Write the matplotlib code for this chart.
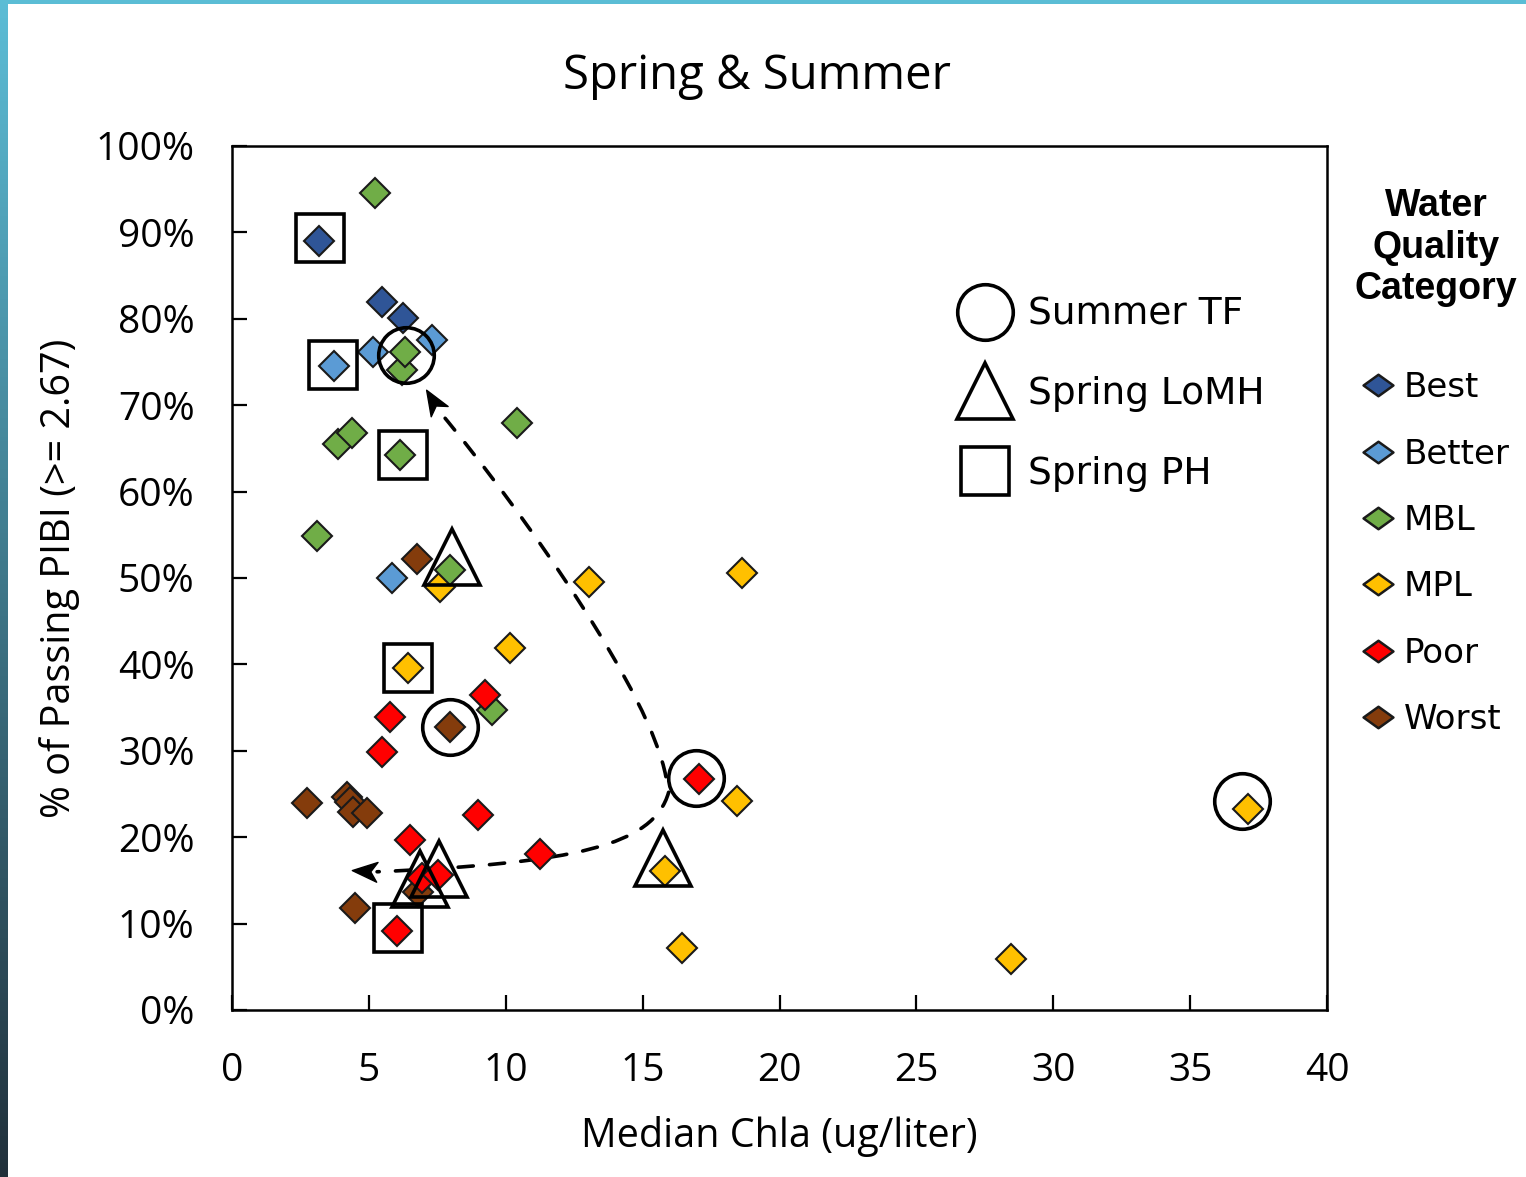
import numpy as np
import matplotlib
matplotlib.use("Agg")
import matplotlib.pyplot as plt
from matplotlib.lines import Line2D
from matplotlib.path import Path
from matplotlib.patches import PathPatch
from matplotlib.markers import MarkerStyle
from matplotlib.transforms import Affine2D
from matplotlib.ticker import FuncFormatter, MultipleLocator

# median chlorophyll-a (ug/L) vs share of sites passing PIBI (%), by category
best_x = [3.18, 5.48, 6.25]
best_y = [89.0, 81.9, 80.1]
better_x = [3.73, 5.15, 7.31, 5.84]
better_y = [74.5, 76.2, 77.5, 50.0]
mbl_x = [5.22, 6.21, 6.32, 3.87, 4.38, 6.14, 10.41, 3.11, 7.96, 9.50]
mbl_y = [94.6, 74.1, 76.2, 65.5, 66.8, 64.2, 67.9, 54.9, 50.9, 34.7]
mpl_x = [7.60, 13.04, 18.63, 6.43, 10.16, 18.45, 15.82, 16.44, 28.46, 37.1]
mpl_y = [49.0, 49.5, 50.6, 39.6, 41.9, 24.2, 16.1, 7.2, 5.9, 23.3]
poor_x = [5.77, 5.48, 9.24, 17.06, 6.50, 8.99, 11.25, 6.94, 7.53, 6.03]
poor_y = [33.9, 29.9, 36.5, 26.7, 19.7, 22.6, 18.1, 15.3, 15.6, 9.1]
worst_x = [2.74, 4.20, 4.31, 4.42, 4.93, 6.76, 7.96, 4.49, 6.79]
worst_y = [24.0, 24.7, 24.1, 22.9, 22.8, 52.2, 32.8, 11.8, 13.7]

# highlighted sites
summer_tf_x = [6.36, 7.96, 16.95, 36.9]
summer_tf_y = [75.8, 32.8, 26.9, 24.2]
spring_lomh_x = [8.04, 15.75, 6.87, 7.56]
spring_lomh_y = [52.4, 17.6, 15.2, 16.3]
spring_ph_x = [3.22, 3.69, 6.25, 6.43, 6.05]
spring_ph_y = [89.3, 74.6, 64.2, 39.6, 9.5]

# dashed guide curves (cubic bezier control points) and their arrow tips
upper_curve = [(15.85, 27.0), (15.3, 36.5), (10.8, 57.0), (7.6, 69.2)]
upper_tip = (7.35, 70.5)
lower_curve = [(15.95, 25.2), (15.4, 19.0), (12.5, 17.0), (5.3, 16.0)]
lower_tip = (4.85, 16.1)

categories = ["Best", "Better", "MBL", "MPL", "Poor", "Worst"]
colors = {"Best": "#2f5597", "Better": "#5b9bd5", "MBL": "#70ad47",
          "MPL": "#ffc000", "Poor": "#ff0000", "Worst": "#843c0c"}
points = {"Best": (best_x, best_y), "Better": (better_x, better_y),
          "MBL": (mbl_x, mbl_y), "MPL": (mpl_x, mpl_y),
          "Poor": (poor_x, poor_y), "Worst": (worst_x, worst_y)}
draw_order = ["Worst", "Better", "Best", "MPL", "MBL", "Poor"]

W, H = 1526, 1177
fig = plt.figure(figsize=(W / 100, H / 100), dpi=100)

# slide frame: gradient strip on the left, thin band along the top
side = fig.add_axes([0, 0, 8 / W, 1])
grad = np.linspace(0, 1, 256)[:, None, None]
top_c = np.array([0.36, 0.74, 0.84])
bot_c = np.array([0.13, 0.19, 0.23])
side.imshow(top_c * (1 - grad) + bot_c * grad, aspect="auto", extent=[0, 1, 0, 1])
side.axis("off")
band = fig.add_axes([0, 1 - 4 / H, 1, 4 / H])
band.set_facecolor("#5bbdd5")
band.set_xticks([]); band.set_yticks([])
for s in band.spines.values():
    s.set_visible(False)

ax = fig.add_axes([232 / W, 1 - 1010 / H, 1095 / W, 864 / H])
ax.set_xlim(0, 40)
ax.set_ylim(0, 100)

for i, cat in enumerate(draw_order):
    xs, ys = points[cat]
    ax.plot(xs, ys, ls="none", marker="D", ms=15, mfc=colors[cat], mec="#1a1a1a",
            mew=1.5, zorder=3 + i * 0.1)

ring = dict(ls="none", mfc="none", mec="black", mew=2.6, zorder=5)
ax.plot(summer_tf_x, summer_tf_y, marker="o", ms=40, **ring)
ax.plot(spring_lomh_x, spring_lomh_y, marker="^", ms=40, **ring)
ax.plot(spring_ph_x, spring_ph_y, marker="s", ms=34, **ring)

# curved dashed arrows
stealth = Path([(1, 0), (-0.9, 0.75), (-0.4, 0), (-0.9, -0.75), (1, 0)],
               [Path.MOVETO, Path.LINETO, Path.LINETO, Path.LINETO, Path.CLOSEPOLY])
codes = [Path.MOVETO, Path.CURVE4, Path.CURVE4, Path.CURVE4]
for curve, tip in [(upper_curve, upper_tip), (lower_curve, lower_tip)]:
    ax.add_patch(PathPatch(Path(curve, codes), fill=False, ec="black", lw=2.6,
                           ls=(0, (4.2, 4.5)), capstyle="round", zorder=2))
    p0 = ax.transData.transform(curve[-1])
    p1 = ax.transData.transform(tip)
    ang = np.degrees(np.arctan2(p1[1] - p0[1], p1[0] - p0[0]))
    head = MarkerStyle(stealth, transform=Affine2D().rotate_deg(ang))
    ax.plot([tip[0]], [tip[1]], ls="none", marker=head, ms=19, color="black", zorder=2)

ax.xaxis.set_major_locator(MultipleLocator(5))
ax.yaxis.set_major_locator(MultipleLocator(10))
ax.yaxis.set_major_formatter(FuncFormatter(lambda v, p: f"{v:.0f}%"))
ax.tick_params(direction="in", length=11, width=1.6, labelsize=28, pad=27)
ax.tick_params(axis="x", pad=30)
for lab in ax.get_xticklabels() + ax.get_yticklabels():
    lab.set_family("Open Sans")
for s in ax.spines.values():
    s.set_linewidth(1.8)

ax.set_xlabel("Median Chla (ug/liter)", fontsize=28.5, family="Open Sans", labelpad=19)
ax.set_ylabel("% of Passing PIBI (>= 2.67)", fontsize=28.5, family="Open Sans", labelpad=11)
fig.text(757 / W, 1 - 76 / H, "Spring & Summer", ha="center", va="center",
         fontsize=34, family="Open Sans")

# legend for highlighted site groups
shape_handles = [
    Line2D([], [], ls="none", marker="o", ms=40, mfc="none", mec="black", mew=2.6),
    Line2D([], [], ls="none", marker="^", ms=40, mfc="none", mec="black", mew=2.6),
    Line2D([], [], ls="none", marker="s", ms=34, mfc="none", mec="black", mew=2.6),
]
leg1 = ax.legend(shape_handles, ["Summer TF", "Spring LoMH", "Spring PH"],
                 loc="upper left", bbox_to_anchor=(0.653, 0.843), frameon=False,
                 prop={"family": "DejaVu Sans", "size": 27}, labelspacing=1.16,
                 handlelength=1.2, handletextpad=0.55, borderaxespad=0)
ax.add_artist(leg1)

# water quality category legend
flat_diamond = Path([(0, 0.72), (1, 0), (0, -0.72), (-1, 0), (0, 0.72)],
                    [Path.MOVETO, Path.LINETO, Path.LINETO, Path.LINETO, Path.CLOSEPOLY])
cat_handles = [Line2D([], [], ls="none", marker=flat_diamond, ms=21.5, mfc=colors[c],
                      mec="#1a1a1a", mew=1.8) for c in categories]
leg2 = ax.legend(cat_handles, categories, loc="upper left",
                 bbox_to_anchor=(1.013, 0.967), frameon=False,
                 prop={"family": "DejaVu Sans", "size": 24.5}, labelspacing=0.98,
                 handlelength=0.9, handletextpad=0.3, borderaxespad=0,
                 title="Water\nQuality\nCategory",
                 title_fontproperties={"family": "Liberation Sans", "weight": "bold", "size": 27})
leg2.get_title().set_multialignment("center")
leg2._legend_box.sep = 46

fig.savefig("out.png", dpi=100)
